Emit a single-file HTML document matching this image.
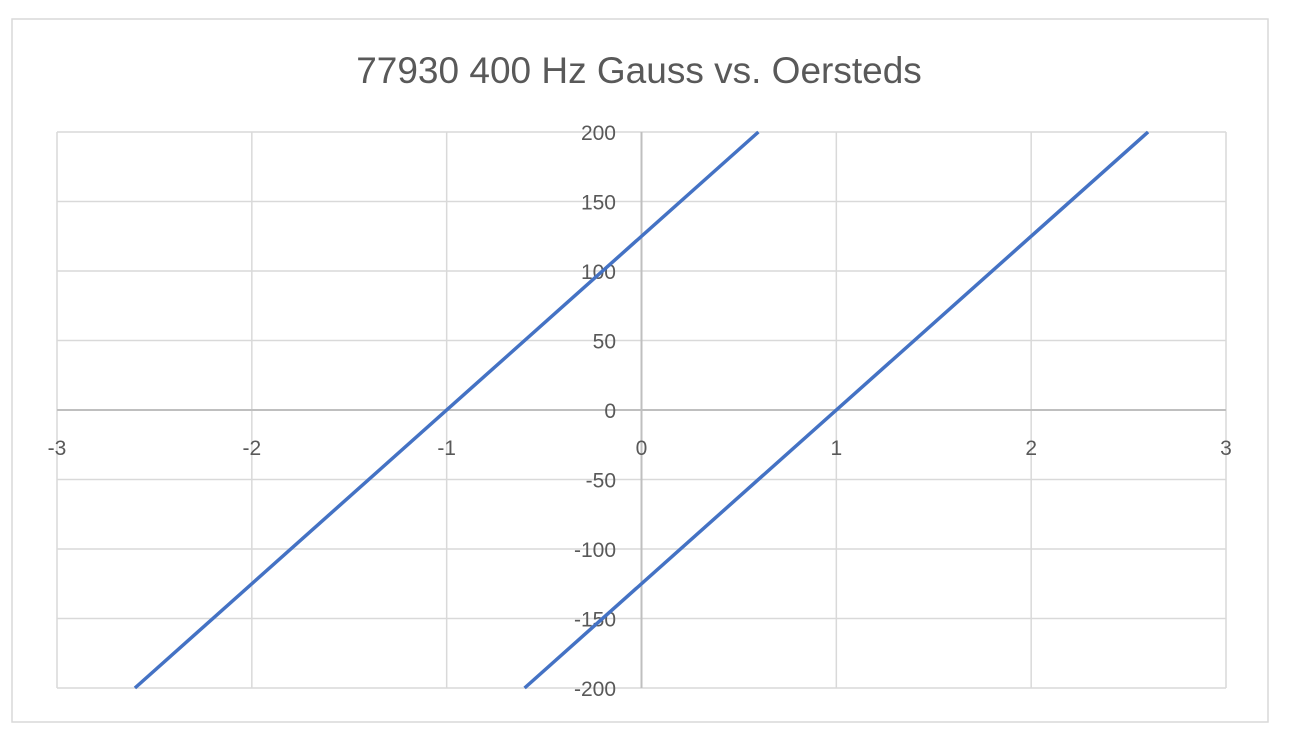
<!DOCTYPE html>
<html><head><meta charset="utf-8"><style>
body{margin:0;background:#fff;}
svg{display:block;font-family:"Liberation Sans",sans-serif;}
</style></head><body>
<svg id="c" width="1301" height="748">
<rect x="12" y="19" width="1256" height="703" fill="#fff" stroke="#d9d9d9" stroke-width="1.5"/>
<text x="639" y="83" text-anchor="middle" font-size="37" fill="#595959">77930 400 Hz Gauss vs. Oersteds</text>
<g id="grid"></g><g id="axes"></g><g id="labels"></g><g id="series"></g>
</svg>
<script>
const xTicks=[-3,-2,-1,0,1,2,3];
const yTicks=[-200,-150,-100,-50,0,50,100,150,200];
const series1X=[-2.6,0.6];
const series1Y=[-200,200];
const series2X=[-0.6,2.6];
const series2Y=[-200,200];
const X0=57,X1=1226,Y0=688,Y1=132;
const sx=v=>X0+(v+3)/6*(X1-X0);
const sy=v=>Y0-(v+200)/400*(Y0-Y1);
const NS='http://www.w3.org/2000/svg';
function mk(t,a,p){const e=document.createElementNS(NS,t);for(const k in a)e.setAttribute(k,a[k]);p.appendChild(e);return e;}
const g=document.getElementById('grid'),ax=document.getElementById('axes'),lb=document.getElementById('labels'),se=document.getElementById('series');
xTicks.forEach(v=>{const l=mk('line',{x1:sx(v),x2:sx(v),y1:Y1,y2:Y0,stroke:v===0?'#bfbfbf':'#d9d9d9','stroke-width':v===0?2:1.5},v===0?ax:g);


const t=mk('text',{x:sx(v),y:455,'text-anchor':'middle','font-size':21,fill:'#595959'},lb);t.textContent=v;

});
yTicks.forEach(v=>{const l=mk('line',{x1:X0,x2:X1,y1:sy(v),y2:sy(v),stroke:v===0?'#bfbfbf':'#d9d9d9','stroke-width':v===0?2:1.5},v===0?ax:g);


const t=mk('text',{x:616,y:sy(v)+8,'text-anchor':'end','font-size':21,fill:'#595959'},lb);t.textContent=v;

});
[[series1X,series1Y,'series-1-line'],[series2X,series2Y,'series-2-line']].forEach(([xs,ys,n])=>{
const p=mk('polyline',{points:xs.map((x,i)=>sx(x)+','+sy(ys[i])).join(' '),fill:'none',stroke:'#4472c4','stroke-width':3.5},se);

});
</script>
</body></html>
